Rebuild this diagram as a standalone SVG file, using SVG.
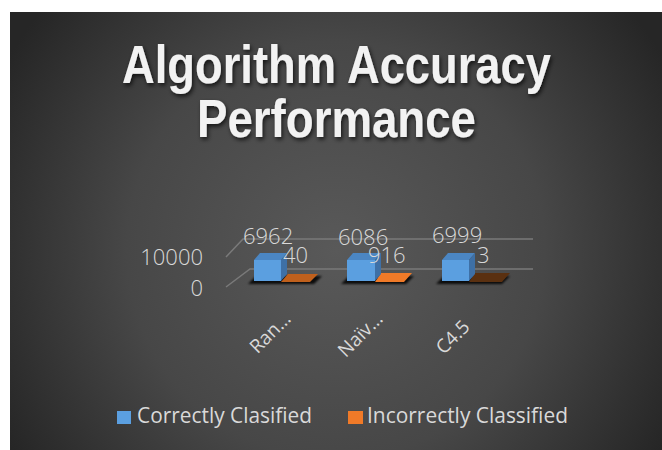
<svg xmlns="http://www.w3.org/2000/svg" width="662" height="450" viewBox="0 0 662 450">
  <defs>
    <radialGradient id="bg" cx="336" cy="250" r="380" gradientUnits="userSpaceOnUse">
      <stop offset="0" stop-color="#595959"/>
      <stop offset="0.55" stop-color="#474747"/>
      <stop offset="1" stop-color="#262626"/>
    </radialGradient>
    <filter id="titleShadow" x="-10%" y="-20%" width="120%" height="150%">
      <feDropShadow dx="1.5" dy="2.5" stdDeviation="2" flood-color="#000" flood-opacity="0.7"/>
    </filter>
    <filter id="soft" x="-20%" y="-50%" width="140%" height="200%">
      <feGaussianBlur stdDeviation="1.2"/>
    </filter>
    <style>
      .title { font-family: "Liberation Sans", Arial, sans-serif; font-weight: bold; font-size: 53px; fill: #f2f2f2; }
      .val { font-family: "Open Sans", "Liberation Sans", sans-serif; font-size: 22px; font-weight: 300; fill: #d9d9d9; }
      .axis { font-family: "Open Sans", "Liberation Sans", sans-serif; font-size: 22px; font-weight: 300; fill: #d9d9d9; text-anchor: end; }
      .cat { font-family: "Open Sans", "Liberation Sans", sans-serif; font-size: 19px; fill: #d9d9d9; text-anchor: end; }
      .leg { font-family: "Open Sans", "Liberation Sans", sans-serif; font-size: 21px; fill: #d9d9d9; }
      .grid { stroke: #7a7a7a; stroke-width: 1.5; fill: none; }
      .front { fill: #5b9fe0; }
      .top { fill: #4b86c3; }
      .side { fill: #3e70a6; }
      .shadow { fill: #000; opacity: 0.85; }
    </style>
  </defs>

  <!-- chart area -->
  <rect x="10" y="12" width="652" height="438" fill="url(#bg)"/>

  <!-- title -->
  <g id="title" filter="url(#titleShadow)">
    <text class="title" x="122" y="83" textLength="429" lengthAdjust="spacingAndGlyphs">Algorithm Accuracy</text>
    <text class="title" x="197" y="137" textLength="279" lengthAdjust="spacingAndGlyphs">Performance</text>
  </g>

  <!-- gridlines and depth lines -->
  <g id="connectors">
    <polyline class="grid" points="226,257 243,239 533,239"/>
    <polyline class="grid" points="226,287 250,269 533,269"/>
  </g>

  <!-- vertical axis labels -->
  <g id="axis-labels">
    <text class="axis" x="203" y="265">10000</text>
    <text class="axis" x="203" y="296">0</text>
  </g>

  <!-- Random Forest -->
  <g id="bar-random">
    <polygon class="shadow" filter="url(#soft)" points="248,284 314,284 322,276 256,276"/>
    <polygon fill="#c0601c" points="281,282 310,282 318,274 288,274"/>
    <rect class="front" x="254" y="260" width="27" height="21"/>
    <polygon class="top" points="254,260 260,253 287,253 281,260"/>
    <polygon class="side" points="281,260 287,253 287,274 281,281"/>
    <text class="val" x="243" y="244">6962</text>
    <text class="val" x="283" y="263">40</text>
    <text class="cat" transform="translate(292,320) rotate(-45)">Ran…</text>
  </g>

  <!-- Naive Bayes -->
  <g id="bar-naive">
    <polygon class="shadow" filter="url(#soft)" points="341,284 406,284 414,276 349,276"/>
    <polygon fill="#f07a28" points="375,282 404,282 412,273 381,273"/>
    <rect class="front" x="347" y="260" width="28" height="21"/>
    <polygon class="top" points="347,260 353,253 381,253 375,260"/>
    <polygon class="side" points="375,260 381,253 381,274 375,281"/>
    <text class="val" x="338" y="245">6086</text>
    <text class="val" x="368" y="263">916</text>
    <text class="cat" transform="translate(384,320) rotate(-45)">Naïv…</text>
  </g>

  <!-- C4.5 -->
  <g id="bar-c45">
    <polygon class="shadow" filter="url(#soft)" points="436,284 502,284 510,276 444,276"/>
    <polygon fill="#5a3010" points="469,282 502,282 510,273 475,273"/>
    <rect class="front" x="442" y="260" width="27" height="21"/>
    <polygon class="top" points="442,260 448,253 475,253 469,260"/>
    <polygon class="side" points="469,260 475,253 475,274 469,281"/>
    <text class="val" x="432" y="243">6999</text>
    <text class="val" x="477" y="263">3</text>
    <text class="cat" transform="translate(471,328) rotate(-45)">C4.5</text>
  </g>

  <!-- legend -->
  <g id="legend">
    <rect x="117" y="411" width="14" height="13" fill="#5b9fe0"/>
    <text class="leg" x="137" y="423" textLength="175" lengthAdjust="spacingAndGlyphs">Correctly Clasified</text>
    <rect x="348" y="411" width="15" height="13" fill="#f07a28"/>
    <text class="leg" x="367" y="423" textLength="201" lengthAdjust="spacingAndGlyphs">Incorrectly Classified</text>
  </g>
</svg>
